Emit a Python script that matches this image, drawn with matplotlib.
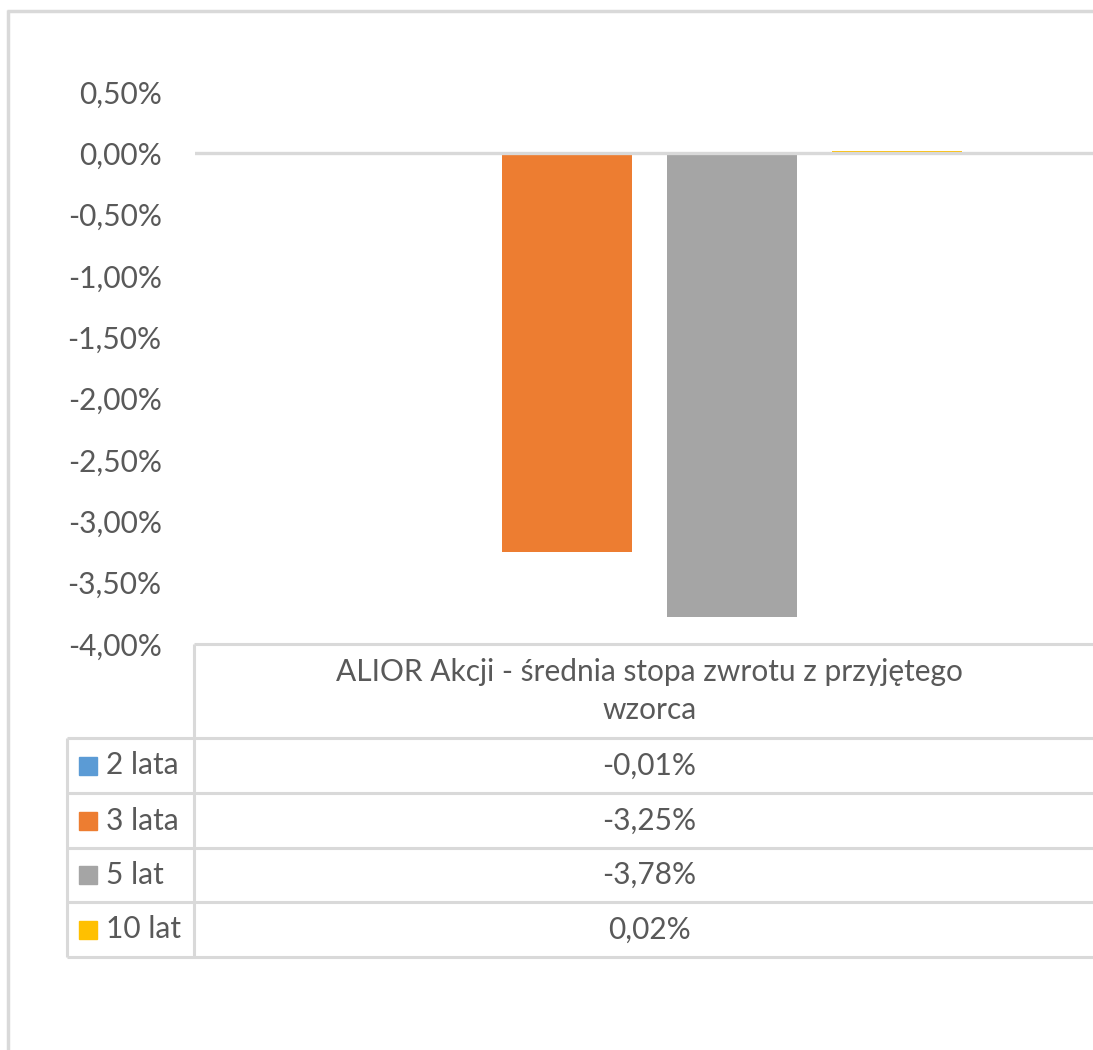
import numpy as np
import matplotlib.pyplot as plt
from matplotlib.lines import Line2D
from matplotlib.patches import Rectangle

plt.rcParams['font.family'] = ['Lato', 'DejaVu Sans']

series = ["2 lata", "3 lata", "5 lat", "10 lat"]
values = [-0.01, -3.25, -3.78, 0.02]
colors = ["#5B9BD5", "#ED7D31", "#A5A5A5", "#FFC000"]
category = "ALIOR Akcji - średnia stopa zwrotu z przyjętego\nwzorca"
yticks = np.arange(-4.0, 0.51, 0.5)

W, H = 1093, 1050
txt = "#595959"
grid = "#D9D9D9"
fs = 21.5

fig = plt.figure(figsize=(W / 100, H / 100), dpi=100)


def fx(x):
    return x / W


def fy(y):
    return 1 - y / H


def hline(x0, x1, y, lw=2.2):
    fig.add_artist(Line2D([fx(x0), fx(x1)], [fy(y), fy(y)], color=grid, lw=lw,
                          transform=fig.transFigure, solid_capstyle='butt'))


def vline(x, y0, y1, lw=2.2):
    fig.add_artist(Line2D([fx(x), fx(x)], [fy(y0), fy(y1)], color=grid, lw=lw,
                          transform=fig.transFigure, solid_capstyle='butt'))


# outer chart border (cut off at right and bottom)
hline(7, W + 5, 11, lw=2.5)
vline(8, 10, H + 5, lw=2.5)

# plot area
ax = fig.add_axes([fx(195), fy(644), 909 / W, 552 / H])
ax.set_xlim(-0.5, 0.5)
ax.set_ylim(-4.0, 0.5)
step = 165 / 909
width = 130 / 909
for i, (v, c) in enumerate(zip(values, colors)):
    ax.bar((i - 1.5) * step, v, width=width, color=c, zorder=2)
ax.axhline(0, color=grid, lw=2.4, zorder=3)
for s in ax.spines.values():
    s.set_visible(False)
ax.set_xticks([])
ax.set_yticks(yticks)
ax.set_yticklabels([("%.2f%%" % t).replace(".", ",") for t in yticks])
ax.tick_params(axis='y', length=0, pad=24, labelsize=fs, labelcolor=txt)

# data table
x_left, x_div, x_right = 67, 194, W + 5
rows_y = [644, 738, 793, 848, 902, 957]
hline(x_div, x_right, rows_y[0])
for y in rows_y[1:]:
    hline(x_left, x_right, y)
vline(x_div, rows_y[0], rows_y[-1])
vline(x_left, rows_y[1], rows_y[-1])

cx = 649.5
fig.text(fx(cx), fy((rows_y[0] + rows_y[1]) / 2), category, ha='center', va='center',
         fontsize=fs, color=txt, linespacing=1.45)
for i, (name, v, c) in enumerate(zip(series, values, colors)):
    yc = (rows_y[i + 1] + rows_y[i + 2]) / 2
    fig.add_artist(Rectangle((fx(79), fy(yc + 9)), 18 / W, 18 / H, color=c,
                             transform=fig.transFigure))
    fig.text(fx(106), fy(yc), name, ha='left', va='center', fontsize=fs, color=txt)
    fig.text(fx(cx), fy(yc), ("%.2f%%" % v).replace(".", ","), ha='center', va='center',
             fontsize=fs, color=txt)

fig.savefig("out.png", dpi=100)
